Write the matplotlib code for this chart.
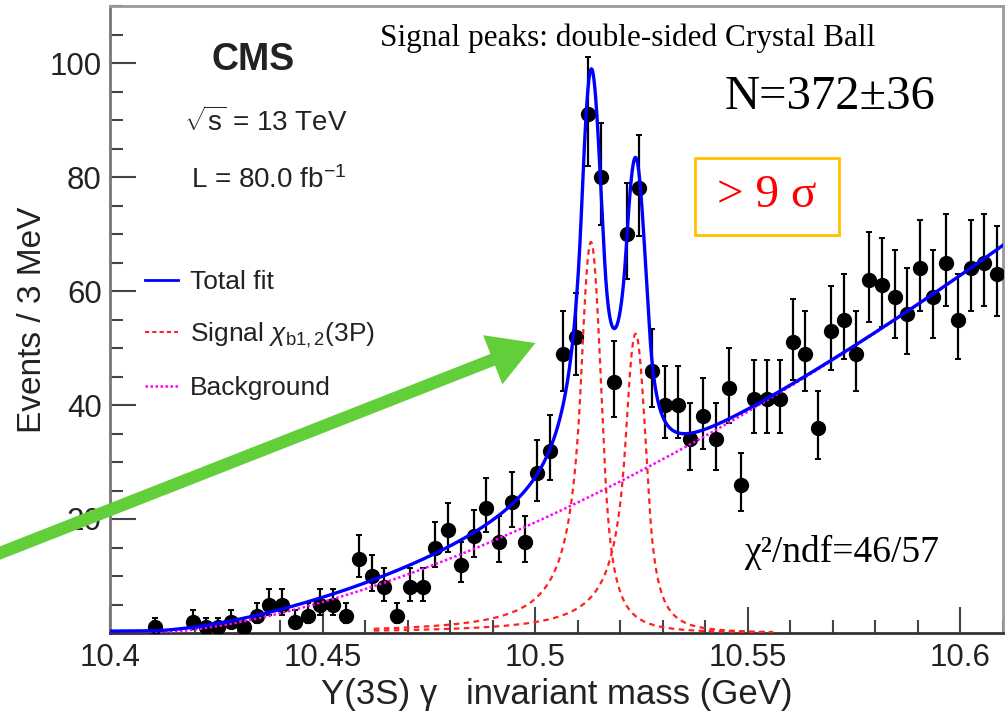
import numpy as np
import matplotlib.pyplot as plt
from matplotlib.lines import Line2D
from matplotlib.patches import FancyArrowPatch, Rectangle
from matplotlib.ticker import MultipleLocator

plt.rcParams['font.family'] = ['Liberation Sans', 'DejaVu Sans']
plt.rcParams['mathtext.fontset'] = 'custom'
plt.rcParams['mathtext.rm'] = 'Liberation Sans'
plt.rcParams['mathtext.it'] = 'Liberation Sans:italic'

# data: 3 MeV bins starting at 10.400 GeV, counts
bin_lo = 10.4
bin_w = 0.003
counts = [0, 0, 0, 1, 0, 0, 2, 1, 1, 2, 1, 3, 5, 5, 2, 3, 5, 5, 3, 13,
          10, 8, 3, 8, 8, 15, 18, 12, 17, 22, 16, 23, 16, 28, 32, 49, 52, 91, 80, 44,
          70, 78, 46, 40, 40, 34, 38, 34, 43, 26, 41, 41, 41, 51, 49, 36, 53, 55, 49, 62,
          61, 59, 56, 64, 59, 65, 55, 64, 65, 63]

# fit model parameters (estimated from the drawn curves)
bkg_m0 = 10.41      # threshold
bkg_ref = 68.0      # background at 10.61
bkg_pow = 1.57
peak_mu = [10.5131, 10.5236]
peak_h = [68.6, 52.5]
cb_sigma = 0.0025
cb_aL, cb_nL = 0.9, 1.7
cb_aR, cb_nR = 1.3, 2.5
sig_range = (10.462, 10.556)

xticks = [10.4, 10.45, 10.5, 10.55, 10.6]
xticklabels = ['10.4', '10.45', '10.5', '10.55', '10.6']
yticks = [20, 40, 60, 80, 100]


def background(m):
    d = np.clip(m - bkg_m0, 0, None) / (10.61 - bkg_m0)
    return bkg_ref * d ** bkg_pow


def dscb(m, mu, h):
    t = (m - mu) / cb_sigma
    out = np.exp(-0.5 * t * t)
    AL = (cb_nL / cb_aL) ** cb_nL * np.exp(-cb_aL ** 2 / 2)
    BL = cb_nL / cb_aL - cb_aL
    AR = (cb_nR / cb_aR) ** cb_nR * np.exp(-cb_aR ** 2 / 2)
    BR = cb_nR / cb_aR - cb_aR
    lt = t < -cb_aL
    rt = t > cb_aR
    out[lt] = AL * (BL - t[lt]) ** (-cb_nL)
    out[rt] = AR * (BR + t[rt]) ** (-cb_nR)
    return h * out


W, H = 1006, 717
fig = plt.figure(figsize=(W / 100, H / 100), dpi=100)
ax = fig.add_axes([110 / W, 1 - 633 / H, (1003 - 110) / W, (633 - 6) / H])


def fp(x, y):
    # image pixel -> figure fraction
    return x / W, 1 - y / H


counts = np.array(counts, dtype=float)
centers = bin_lo + bin_w * (np.arange(len(counts)) + 0.5)
nz = counts > 0
n = counts[nz]
err_hi = np.sqrt(n + 0.25) + 0.5
err_lo = np.sqrt(n + 0.25) - 0.5
ax.errorbar(centers[nz], n, yerr=[err_lo, err_hi], fmt='o', color='black',
            ms=10, elinewidth=1.6, capsize=2.5, capthick=1.4, zorder=3)

m = np.linspace(10.4, 10.61, 3000)
bkg = background(m)
s1 = dscb(m, peak_mu[0], peak_h[0])
s2 = dscb(m, peak_mu[1], peak_h[1])
sel = (m >= sig_range[0]) & (m <= sig_range[1])
ax.plot(m, bkg, color='#ff00ff', ls=(0, (1, 1)), lw=1.8, zorder=4)
ax.plot(m[sel], s1[sel], color='#ff2020', ls=(0, (2.5, 2)), lw=1.6, zorder=4)
ax.plot(m[sel], s2[sel], color='#ff2020', ls=(0, (2.5, 2)), lw=1.6, zorder=4)
ax.plot(m, bkg + s1 + s2, color='#0000ff', lw=2.4, zorder=5)

ax.set_xlim(10.4, 10.61)
ax.set_ylim(0, 110)
ax.set_xticks(xticks)
ax.set_xticklabels(xticklabels)
ax.set_yticks(yticks)
ax.xaxis.set_minor_locator(MultipleLocator(0.01))
ax.yaxis.set_minor_locator(MultipleLocator(5))
ax.tick_params(which='both', direction='in', colors='#444444', labelcolor='#222222',
               labelsize=22.5, width=1.5)
ax.tick_params(which='major', length=19)
ax.tick_params(which='minor', length=9.5)
ax.tick_params(axis='x', pad=7)
ax.tick_params(axis='y', pad=6)
for side in ['top', 'right']:
    ax.spines[side].set_color('#999999')
    ax.spines[side].set_linewidth(2)
ax.spines['left'].set_color('#777777')
ax.spines['left'].set_linewidth(2)
ax.spines['bottom'].set_color('#333333')
ax.spines['bottom'].set_linewidth(2)

ax.set_ylabel('Events / 3 MeV', fontsize=24, color='#222222', labelpad=1)
ax.set_xlabel('Υ(3S) γ   invariant mass (GeV)', fontsize=25, color='#222222', labelpad=4)

# legend
handles = [Line2D([], [], color='#0000ff', lw=2),
           Line2D([], [], color='#ff2020', ls=(0, (2, 1.5)), lw=1.5),
           Line2D([], [], color='#ff00ff', ls=(0, (1, 1)), lw=1.8)]
labels = ['Total fit', r'Signal $\chi_{\rm b1,2}$(3P)', 'Background']
leg = fig.legend(handles, labels, loc='upper left', bbox_to_anchor=fp(145, 270),
                 frameon=False, fontsize=19, handlelength=1.25, handletextpad=0.45,
                 labelspacing=1.0, borderpad=0, borderaxespad=0)
for t in leg.get_texts():
    t.set_color('#222222')

# CMS labels
fig.text(*fp(253, 60), 'CMS', fontsize=27, fontweight='bold', ha='center', va='center', color='#222222')
fig.text(*fp(266, 122), r'$\sqrt{\rm s}$ = 13 TeV', fontsize=20, ha='center', va='center', color='#222222')
fig.text(*fp(269, 180), r'L = 80.0 fb$^{\mathregular{-1}}$', fontsize=20, ha='center', va='center', color='#222222')

serif = ['Liberation Serif', 'DejaVu Serif']
fig.text(*fp(628, 38), 'Signal peaks: double-sided Crystal Ball', family=serif,
         fontsize=22.5, ha='center', va='center')
fig.text(*fp(830, 97), 'N=372±36', family=serif, fontsize=35, ha='center', va='center')
fig.text(*fp(842, 552), 'χ²/ndf=46/57', family=serif, fontsize=27, ha='center', va='center')

x0, y0 = fp(695, 235)
x1, y1 = fp(839, 158)
fig.add_artist(Rectangle((x0, y0), x1 - x0, y1 - y0, transform=fig.transFigure,
                         fill=False, edgecolor='#ffc000', lw=2))
fig.text(*fp(767, 196), '> 9 σ', family=serif, fontsize=34, color='#ff0000',
         ha='center', va='center')

# green arrow
arrow = FancyArrowPatch(fp(-5, 555), fp(538, 342), transform=fig.transFigure,
                        arrowstyle='simple,head_width=3.8,head_length=3.3,tail_width=0.9',
                        mutation_scale=10, color='#62cf3a', lw=0, zorder=10)
fig.add_artist(arrow)

fig.savefig('out.png', dpi=100)
